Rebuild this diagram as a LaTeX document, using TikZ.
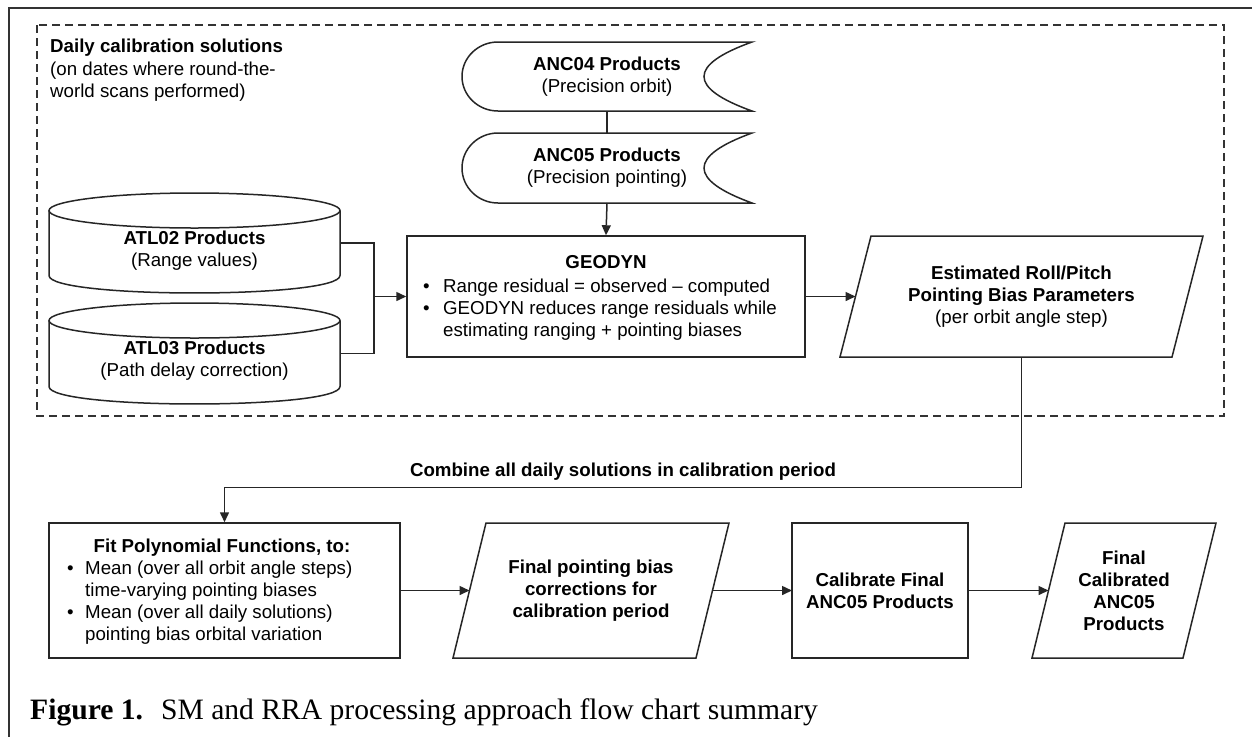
\documentclass[tikz,border=0pt]{standalone}
\usepackage{fontspec}
\setmainfont{Liberation Sans}
\newfontfamily\capfont{Liberation Serif}
\usetikzlibrary{arrows.meta,calc}
\newcommand\fs{\fontsize{18.7}{22}\selectfont}
\begin{document}
\begin{tikzpicture}[x=1pt,y=-1pt,
  line/.style={line width=1.5pt, draw=black!85},
  arr/.style={line, -{Triangle[length=10pt,width=9pt]}},
  shp/.style={line width=1.5pt, draw=black!85},
  hold/.style={inner sep=0pt, outer sep=0pt, font=\fs, align=center},
  txt/.style={inner sep=0pt, font=\fs, align=center},
]
\useasboundingbox (0,0) rectangle (1252,737);
\fill[white] (0,0) rectangle (1252,737);

% outer frame (top and left)
\draw[line width=1.8pt, black!80] (1252,8) -- (9,8) -- (9,737);
% dashed region
\draw[line width=1.3pt, black!80, dash pattern=on 8pt off 5pt] (37,25) rectangle (1224,416);

\node[inner sep=0pt, anchor=base west, font=\fs] (daily) at (50,52)
  {\begin{tabular}[t]{@{}l@{}}\textbf{Daily calibration solutions}\\[1pt](on dates where round-the-\\world scans performed)\end{tabular}};

% ANC04 / ANC05 stored data
\node[hold, minimum width=290, minimum height=69] (anc04) at (607,76.5)
  {\textbf{ANC04 Products}\\(Precision orbit)};
\draw[shp] (498,42) -- (752,42) .. controls (688,65) and (688,88) .. (752,111)
  -- (498,111) .. controls (478.1,111) and (462,95.5) .. (462,76.5)
  .. controls (462,57.5) and (478.1,42) .. (498,42) -- cycle;
\node[hold, minimum width=290, minimum height=70] (anc05) at (607,168)
  {\textbf{ANC05 Products}\\(Precision pointing)};
\draw[shp] (498,133) -- (752,133) .. controls (688,156.3) and (688,179.7) .. (752,203)
  -- (498,203) .. controls (478.1,203) and (462,187.3) .. (462,168)
  .. controls (462,148.7) and (478.1,133) .. (498,133) -- cycle;

% ATL02 / ATL03 cylinders
\node[hold, minimum width=291, minimum height=100] (atl02) at (194.5,243) {};
\draw[shp] (49,210.5) -- (49,275.5) .. controls (49,298.8) and (340,298.8) .. (340,275.5) -- (340,210.5);
\draw[shp] (194.5,210.5) ellipse [x radius=145.5, y radius=17.5];
\node[txt] (atl02t) at (194.5,251) {\textbf{ATL02 Products}\\(Range values)};

\node[hold, minimum width=291, minimum height=101] (atl03) at (194.5,353.5) {};
\draw[shp] (49,320.5) -- (49,386.5) .. controls (49,409.8) and (340,409.8) .. (340,386.5) -- (340,320.5);
\draw[shp] (194.5,320.5) ellipse [x radius=145.5, y radius=17.5];
\node[txt] (atl03t) at (194.5,361) {\textbf{ATL03 Products}\\(Path delay correction)};

% GEODYN
\node[shp, inner sep=0pt, minimum width=398, minimum height=121] (geodyn) at (606,296.5) {};
\node[txt, anchor=base] (geot) at (606,268) {\textbf{GEODYN}};
\node[inner sep=0pt, anchor=base west, font=\fs] (geob) at (423,292)
  {\begin{tabular}[t]{@{}l@{}l@{}}\makebox[20pt][l]{\textbullet} & Range residual = observed -- computed\\
   \textbullet & GEODYN reduces range residuals while\\
   & estimating ranging + pointing biases\end{tabular}};

% Estimated parallelogram
\node[hold, minimum width=363, minimum height=121] (est) at (1021.5,296.5)
  {\textbf{Estimated Roll/Pitch}\\\textbf{Pointing Bias Parameters}\\(per orbit angle step)};
\draw[shp] (est.south west) -- ($(est.north west)+(31,0)$) -- (est.north east)
  -- ($(est.south east)+(-31,0)$) -- cycle;

% Fit box
\node[shp, inner sep=0pt, minimum width=351, minimum height=135] (fit) at (224.5,590.5) {};
\node[txt, anchor=base] (fitt) at (222,552) {\textbf{Fit Polynomial Functions, to:}};
\node[inner sep=0pt, anchor=base west, font=\fs] (fitb) at (67,574)
  {\begin{tabular}[t]{@{}l@{}l@{}}\makebox[18pt][l]{\textbullet} & Mean (over all orbit angle steps)\\
   & time-varying pointing biases\\
   \textbullet & Mean (over all daily solutions)\\
   & pointing bias orbital variation\end{tabular}};

% Final pointing parallelogram
\node[hold, minimum width=276, minimum height=135] (fp) at (591,590.5)
  {\textbf{Final pointing bias}\\\textbf{corrections for}\\\textbf{calibration period}};
\draw[shp] (fp.south west) -- ($(fp.north west)+(33,0)$) -- (fp.north east)
  -- ($(fp.south east)+(-33,0)$) -- cycle;

% Calibrate box
\node[shp, hold, minimum width=176, minimum height=135] (cal) at (880,590.5)
  {\textbf{Calibrate Final}\\\textbf{ANC05 Products}};

% Final calibrated parallelogram
\node[hold, minimum width=184, minimum height=135] (fc) at (1124,590.5)
  {\textbf{Final}\\\textbf{Calibrated}\\\textbf{ANC05}\\\textbf{Products}};
\draw[shp] (fc.south west) -- ($(fc.north west)+(33,0)$) -- (fc.north east)
  -- ($(fc.south east)+(-33,0)$) -- cycle;

% connectors
\draw[line] (anc04.south) -- (anc05.north);
\draw[arr] (anc05.south) -- (geodyn.north);
\coordinate (merge) at (374,296.5);
\draw[line] (atl02.east) -| (merge);
\draw[line] (atl03.east) -| (merge);
\draw[arr] (merge) -- (geodyn.west);
\draw[arr] (geodyn.east) -- ($(est.west)+(15.5,0)$);
\draw[arr] (est.south) |- node[pos=0.75, anchor=base, yshift=11pt, inner sep=0pt, font=\fs\bfseries]
  {Combine all daily solutions in calibration period} ($(fit.north)+(0,-35)$) -- (fit.north);
\draw[arr] (fit.east) -- ($(fp.west)+(16.5,0)$);
\draw[arr] ($(fp.east)+(-16.5,0)$) -- (cal.west);
\draw[arr] (cal.east) -- ($(fc.west)+(16.5,0)$);

% caption
\node[anchor=base west, inner sep=0pt, font=\capfont\fontsize{29.6}{34}\selectfont] (cap) at (30,719)
  {\textbf{Figure 1.}\hspace{18pt}SM and RRA processing approach flow chart summary};
\end{tikzpicture}
\end{document}
